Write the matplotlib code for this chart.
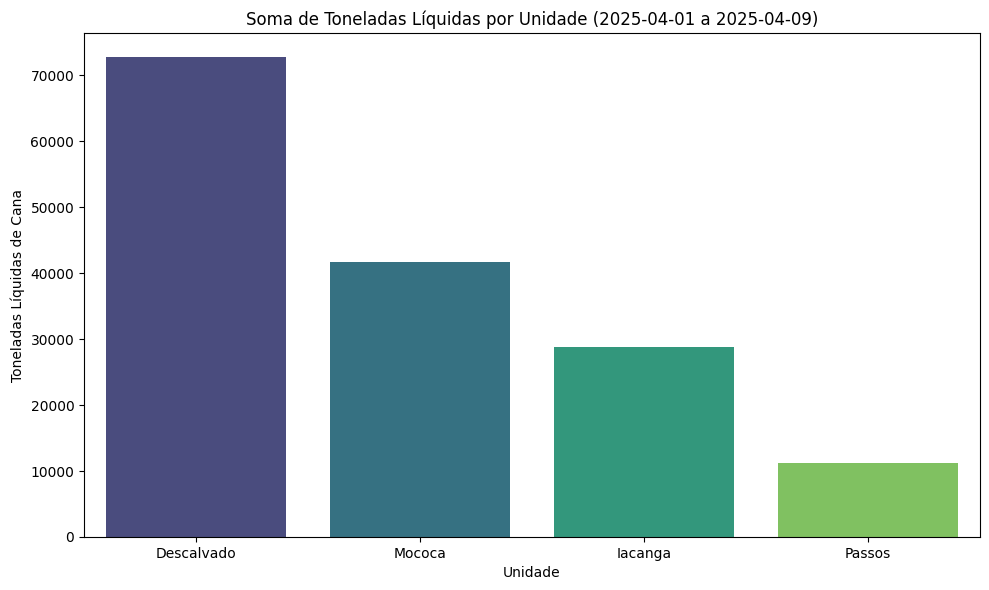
import matplotlib
matplotlib.use("Agg")
import matplotlib.pyplot as plt
import seaborn as sns
import pandas as pd

unidades = ["Descalvado", "Mococa", "Iacanga", "Passos"]
toneladas = [72770, 41710, 28830, 11260]

df = pd.DataFrame({"Unidade": unidades, "Toneladas": toneladas})

fig, ax = plt.subplots(figsize=(9.89, 5.9), dpi=100)
sns.barplot(data=df, x="Unidade", y="Toneladas", hue="Unidade",
            palette="viridis", legend=False, ax=ax)
ax.set_title("Soma de Toneladas Líquidas por Unidade (2025-04-01 a 2025-04-09)")
ax.set_xlabel("Unidade")
ax.set_ylabel("Toneladas Líquidas de Cana")
fig.subplots_adjust(left=84/989, right=980/989, top=1-33/590, bottom=1-537/590)
fig.savefig("out.png", dpi=100)
